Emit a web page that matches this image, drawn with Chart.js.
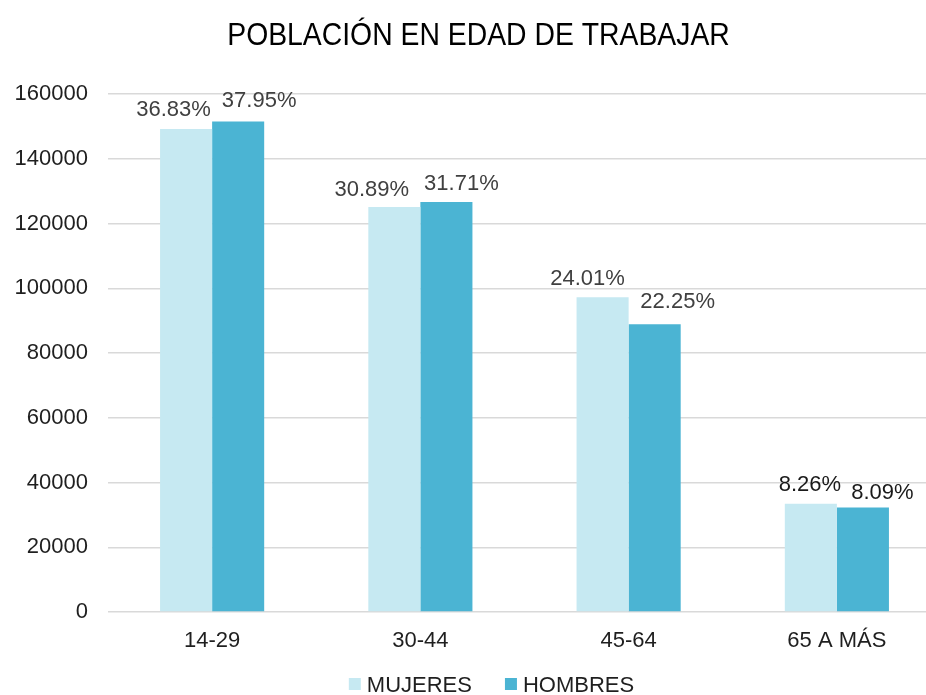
<!DOCTYPE html>
<html lang="es">
<head>
<meta charset="utf-8">
<title>Población en edad de trabajar</title>
<script src="https://cdn.jsdelivr.net/npm/chart.js@4/dist/chart.umd.min.js"></script>
<style>
  html, body { margin: 0; padding: 0; background: #ffffff; overflow: hidden; }
  #wrap { width: 942px; height: 695px; }
</style>
</head>
<body>
<div id="wrap"><canvas id="chart" width="942" height="695"></canvas></div>
<script>
// Grupos de edad
const categories = ['14-29', '30-44', '45-64', '65 A MÁS'];

// Población por sexo
const mujeres = [149165, 125108, 97243, 33456];
const hombres = [151534, 126618, 88844, 32303];

const seriesNames = ['MUJERES', 'HOMBRES'];
const seriesColors = ['#C6E9F2', '#4BB4D3'];

// Eje vertical
const yTicks = [0, 20000, 40000, 60000, 80000, 100000, 120000, 140000, 160000];

const FONT = '"Liberation Sans", Arial, Helvetica, sans-serif';

// Participación de cada grupo dentro del total de su serie
function share(values, i) {
  const total = values.reduce((a, b) => a + b, 0);
  return (values[i] / total * 100).toFixed(2) + '%';
}

// Título centrado sobre el gráfico
const titlePlugin = {
  id: 'tituloPlugin',
  afterDraw(chart, args, opts) {
    const ctx = chart.ctx;
    ctx.save();
    ctx.font = '32px ' + FONT;
    ctx.fillStyle = '#000000';
    ctx.textAlign = 'center';
    ctx.textBaseline = 'alphabetic';
    ctx.translate(opts.x, opts.y);
    ctx.scale(opts.squeeze, 1);
    ctx.fillText(opts.text, 0, 0);
    ctx.restore();
  }
};

// Etiquetas de porcentaje sobre cada barra
const shareLabels = {
  id: 'shareLabels',
  afterDatasetsDraw(chart, args, opts) {
    const ctx = chart.ctx;
    ctx.save();
    ctx.font = '22px ' + FONT;
    ctx.textAlign = 'center';
    ctx.textBaseline = 'alphabetic';
    chart.data.datasets.forEach((ds, d) => {
      const meta = chart.getDatasetMeta(d);
      meta.data.forEach((bar, i) => {
        const off = opts.offsets[d][i];
        ctx.fillStyle = opts.colors[i];
        ctx.fillText(share(ds.data, i), bar.x + off[0], bar.y - off[1]);
      });
    });
    ctx.restore();
  }
};

// Leyenda inferior
const bottomLegend = {
  id: 'bottomLegend',
  afterDraw(chart, args, opts) {
    const ctx = chart.ctx;
    ctx.save();
    ctx.font = '22px ' + FONT;
    ctx.textBaseline = 'alphabetic';
    ctx.textAlign = 'left';
    const items = chart.data.datasets.map(ds => ({
      text: ds.label, color: ds.backgroundColor, w: ctx.measureText(ds.label).width
    }));
    const box = 12, gap = 6, spacing = 33;
    let total = 0;
    items.forEach((it, k) => { total += box + gap + it.w + (k ? spacing : 0); });
    let x = opts.cx - total / 2;
    items.forEach((it, k) => {
      if (k) x += spacing;
      ctx.fillStyle = it.color;
      ctx.fillRect(x, opts.baseline - 14, box, box);
      x += box + gap;
      ctx.fillStyle = '#1f1f1f';
      ctx.fillText(it.text, x, opts.baseline);
      x += it.w;
    });
    ctx.restore();
  }
};

new Chart(document.getElementById('chart'), {
  type: 'bar',
  data: {
    labels: categories,
    datasets: [
      { label: seriesNames[0], data: mujeres, backgroundColor: seriesColors[0] },
      { label: seriesNames[1], data: hombres, backgroundColor: seriesColors[1] }
    ]
  },
  options: {
    responsive: false,
    animation: false,
    devicePixelRatio: 1,
    layout: { padding: { top: 94, left: 0, right: 1, bottom: 0 } },
    datasets: {
      bar: { categoryPercentage: 0.5, barPercentage: 1.0, borderWidth: 0 }
    },
    scales: {
      x: {
        grid: { display: false },
        border: { display: false },
        ticks: { color: '#1f1f1f', font: { family: FONT, size: 22 }, padding: 8 },
        afterFit(scale) { scale.height = 83; }
      },
      y: {
        min: 0,
        max: 160000,
        afterBuildTicks(scale) { scale.ticks = yTicks.map(v => ({ value: v })); },
        grid: { color: '#d9d9d9', lineWidth: 1.5, drawTicks: false },
        border: { display: false },
        ticks: {
          color: '#1f1f1f',
          font: { family: FONT, size: 22 },
          padding: 20,
          callback: v => String(v)
        },
        afterFit(scale) { scale.width = 108; }
      }
    },
    plugins: {
      legend: { display: false },
      title: { display: false },
      tooltip: { enabled: false },
      tituloPlugin: { text: 'POBLACIÓN EN EDAD DE TRABAJAR', x: 478.5, y: 45, squeeze: 0.886 },
      shareLabels: {
        colors: ['#404040', '#404040', '#404040', '#1a1a1a'],
        offsets: [
          [[-12.5, 13], [-22.5, 11], [-15, 12], [-1, 13]],
          [[21, 14], [15, 12], [23, 16], [19.5, 8]]
        ]
      },
      bottomLegend: { cx: 491.5, baseline: 692 }
    }
  },
  plugins: [titlePlugin, shareLabels, bottomLegend]
});
</script>
</body>
</html>
